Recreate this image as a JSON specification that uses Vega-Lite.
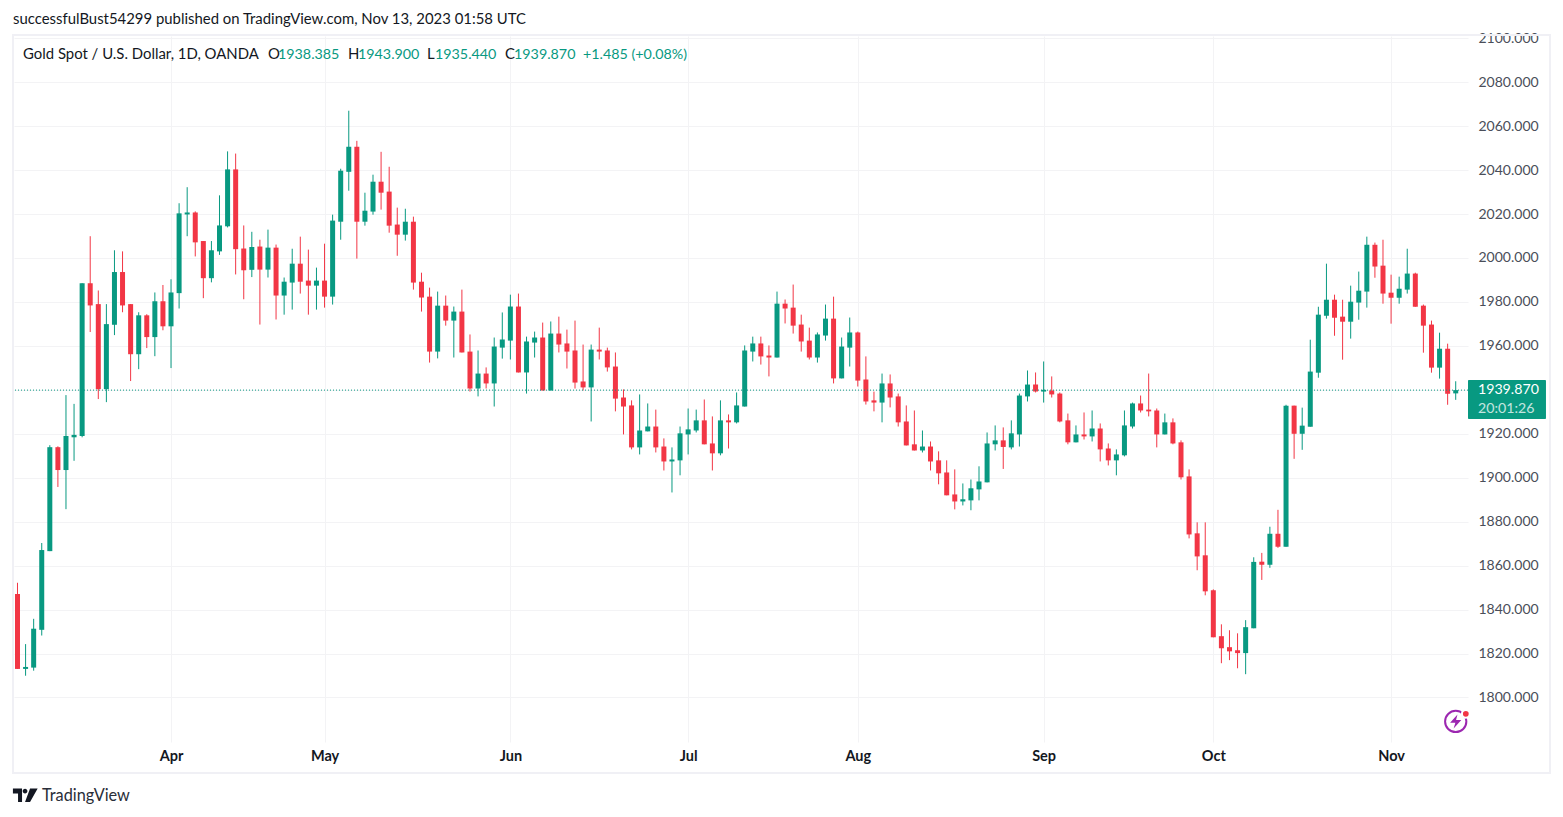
{"$schema":"https://vega.github.io/schema/vega-lite/v6.json","width":1454,"height":706,"autosize":{"type":"none"},"padding":{"left":14,"top":36,"right":95,"bottom":75},"background":"#ffffff","config":{"view":{"stroke":null},"font":"Lato"},
"datasets":{"candles":[
{"i":0,"o":1847.1,"h":1852.2,"l":1813,"c":1813},{"i":1,"o":1813,"h":1824.3,"l":1809.9,"c":1813.9},{"i":2,"o":1813.6,"h":1835.8,"l":1812.2,"c":1831.3},{"i":3,"o":1830.8,"h":1870.3,"l":1828.2,"c":1867.1},{"i":4,"o":1866.6,"h":1914.8,"l":1866.6,"c":1913.9},{"i":5,"o":1913.9,"h":1914.3,"l":1895.8,"c":1903.5},{"i":6,"o":1903.5,"h":1937.6,"l":1885.7,"c":1919},{"i":7,"o":1918.4,"h":1933.6,"l":1907.7,"c":1919.5},{"i":8,"o":1919,"h":1988.5,"l":1918.4,"c":1988.5},{"i":9,"o":1988.5,"h":2009.9,"l":1966.3,"c":1978.4},
{"i":10,"o":1979,"h":1985.2,"l":1935.8,"c":1940.3},{"i":11,"o":1940.3,"h":1979,"l":1934.4,"c":1969.9},{"i":12,"o":1969.6,"h":2003.5,"l":1964.9,"c":1993.6},{"i":13,"o":1993.6,"h":2003,"l":1975.3,"c":1978.4},{"i":14,"o":1979,"h":1979,"l":1944,"c":1956.2},{"i":15,"o":1956.2,"h":1975.3,"l":1949.4,"c":1973.9},{"i":16,"o":1973.9,"h":1974.4,"l":1959,"c":1964},{"i":17,"o":1964,"h":1984.3,"l":1955.3,"c":1980.3},{"i":18,"o":1980.3,"h":1987.7,"l":1967.1,"c":1968.9},{"i":19,"o":1968.9,"h":1990.3,"l":1949.9,"c":1984.3},
{"i":20,"o":1984,"h":2024.9,"l":1977,"c":2020.3},{"i":21,"o":2019.8,"h":2032.2,"l":2009.9,"c":2020.7},{"i":22,"o":2020.7,"h":2021.2,"l":2000.7,"c":2007.1},{"i":23,"o":2007.7,"h":2007.7,"l":1981.7,"c":1990.8},{"i":24,"o":1990.8,"h":2007.7,"l":1988.9,"c":2003.5},{"i":25,"o":2003,"h":2028.5,"l":2001.4,"c":2014.8},{"i":26,"o":2014.4,"h":2048.5,"l":2013.9,"c":2040.3},{"i":27,"o":2040.3,"h":2047.5,"l":1992.5,"c":2004},{"i":28,"o":2004.3,"h":2014.8,"l":1981.2,"c":1994.4},{"i":29,"o":1994.6,"h":2011.9,"l":1991.3,"c":2005},
{"i":30,"o":2005.2,"h":2008.3,"l":1969.7,"c":1994.7},{"i":31,"o":1994.7,"h":2012.9,"l":1991.1,"c":2004.7},{"i":32,"o":2004.7,"h":2006.1,"l":1972,"c":1982.9},{"i":33,"o":1982.9,"h":1991.1,"l":1974.2,"c":1989.2},{"i":34,"o":1988.8,"h":2004.2,"l":1976.5,"c":1997.4},{"i":35,"o":1997.4,"h":2009.7,"l":1983.8,"c":1989.2},{"i":36,"o":1989.7,"h":2003.8,"l":1974.2,"c":1987.4},{"i":37,"o":1987.4,"h":1995.6,"l":1976.5,"c":1989.7},{"i":38,"o":1989.7,"h":2006.5,"l":1977.4,"c":1982.4},{"i":39,"o":1982.4,"h":2019.7,"l":1978.8,"c":2017},
{"i":40,"o":2016.5,"h":2040.6,"l":2008.3,"c":2039.7},{"i":41,"o":2039.2,"h":2067,"l":2030.6,"c":2050.6},{"i":42,"o":2050.6,"h":2053.3,"l":1999.7,"c":2016.5},{"i":43,"o":2016.5,"h":2029.7,"l":2014.7,"c":2021.5},{"i":44,"o":2021.1,"h":2037.9,"l":2019.7,"c":2034.7},{"i":45,"o":2034.7,"h":2048.3,"l":2022,"c":2029.7},{"i":46,"o":2030.2,"h":2041.5,"l":2011.5,"c":2014.7},{"i":47,"o":2015.2,"h":2022.9,"l":2001,"c":2010.6},{"i":48,"o":2010.6,"h":2022.4,"l":2007.9,"c":2016.5},{"i":49,"o":2016.5,"h":2018.8,"l":1985.6,"c":1988.8},
{"i":50,"o":1989.2,"h":1993.3,"l":1975.6,"c":1982},{"i":51,"o":1982.4,"h":1986.5,"l":1952.4,"c":1957.4},{"i":52,"o":1957.4,"h":1984.7,"l":1954.3,"c":1978.3},{"i":53,"o":1978.3,"h":1982.9,"l":1969.2,"c":1971.5},{"i":54,"o":1971.5,"h":1977.9,"l":1954.7,"c":1975.6},{"i":55,"o":1975.6,"h":1985.6,"l":1957,"c":1957},{"i":56,"o":1957.4,"h":1965.2,"l":1939.2,"c":1940.6},{"i":57,"o":1940.6,"h":1957.9,"l":1937,"c":1947.4},{"i":58,"o":1947.4,"h":1950.2,"l":1940.6,"c":1942.9},{"i":59,"o":1942.9,"h":1963.8,"l":1932.4,"c":1959.7},
{"i":60,"o":1959.2,"h":1975.2,"l":1954.2,"c":1962.9},{"i":61,"o":1962.4,"h":1983.3,"l":1953.8,"c":1977.9},{"i":62,"o":1977.9,"h":1983.8,"l":1947.9,"c":1947.9},{"i":63,"o":1947.9,"h":1964.2,"l":1938.3,"c":1962},{"i":64,"o":1961.5,"h":1966.5,"l":1954.7,"c":1963.8},{"i":65,"o":1963.8,"h":1970.6,"l":1939.7,"c":1939.7},{"i":66,"o":1939.7,"h":1971.1,"l":1939.7,"c":1965.6},{"i":67,"o":1965.6,"h":1973.3,"l":1957,"c":1960.6},{"i":68,"o":1961.1,"h":1967.4,"l":1949.7,"c":1957.4},{"i":69,"o":1957.9,"h":1971.5,"l":1940.6,"c":1943.3},
{"i":70,"o":1943.8,"h":1960.6,"l":1939.7,"c":1941.1},{"i":71,"o":1941.1,"h":1960.6,"l":1925.6,"c":1958.3},{"i":72,"o":1958.3,"h":1968.3,"l":1953.8,"c":1957.4},{"i":73,"o":1957.9,"h":1959.2,"l":1948.3,"c":1950.2},{"i":74,"o":1950.6,"h":1957,"l":1930.2,"c":1936},{"i":75,"o":1936.5,"h":1940.2,"l":1919.7,"c":1932.4},{"i":76,"o":1932.9,"h":1935.2,"l":1912.9,"c":1913.8},{"i":77,"o":1913.8,"h":1937.9,"l":1910.6,"c":1921.5},{"i":78,"o":1921.1,"h":1933.8,"l":1921.1,"c":1923.3},{"i":79,"o":1923.3,"h":1931,"l":1911.5,"c":1913.8},
{"i":80,"o":1914.2,"h":1917.9,"l":1903.3,"c":1907.4},{"i":81,"o":1907.4,"h":1913.8,"l":1893.3,"c":1908.3},{"i":82,"o":1907.9,"h":1923.3,"l":1901.1,"c":1920.2},{"i":83,"o":1919.7,"h":1931.5,"l":1910.6,"c":1922},{"i":84,"o":1921.5,"h":1931,"l":1920.6,"c":1926.1},{"i":85,"o":1926.1,"h":1935.6,"l":1915.2,"c":1915.2},{"i":86,"o":1915.6,"h":1927.9,"l":1903.3,"c":1911.1},{"i":87,"o":1911.1,"h":1935.2,"l":1910.2,"c":1926.1},{"i":88,"o":1926.1,"h":1928.8,"l":1913.3,"c":1925.2},{"i":89,"o":1925.2,"h":1938.8,"l":1924.7,"c":1932.9},
{"i":90,"o":1932.4,"h":1960.2,"l":1932.4,"c":1957.9},{"i":91,"o":1957.4,"h":1964.2,"l":1952.9,"c":1961.1},{"i":92,"o":1961.1,"h":1964.2,"l":1951.5,"c":1955.2},{"i":93,"o":1955.6,"h":1960.2,"l":1946.1,"c":1954.7},{"i":94,"o":1954.7,"h":1984.7,"l":1954.7,"c":1979.2},{"i":95,"o":1979.2,"h":1981.1,"l":1970.2,"c":1977},{"i":96,"o":1977.4,"h":1987.9,"l":1965.6,"c":1969.2},{"i":97,"o":1969.7,"h":1974.2,"l":1957.4,"c":1962},{"i":98,"o":1962.4,"h":1968.3,"l":1953.8,"c":1954.7},{"i":99,"o":1954.7,"h":1966.1,"l":1952.4,"c":1965.2},
{"i":100,"o":1964.7,"h":1978.8,"l":1962.4,"c":1972.4},{"i":101,"o":1972.4,"h":1982.4,"l":1942.9,"c":1945.2},{"i":102,"o":1945.2,"h":1963.8,"l":1945.2,"c":1959.7},{"i":103,"o":1959.2,"h":1972.9,"l":1950.6,"c":1966.1},{"i":104,"o":1966.1,"h":1966.5,"l":1941.5,"c":1944.2},{"i":105,"o":1944.7,"h":1955.2,"l":1933.3,"c":1934.7},{"i":106,"o":1935.2,"h":1939.2,"l":1930.2,"c":1934.2},{"i":107,"o":1934.2,"h":1947.4,"l":1925.2,"c":1942.9},{"i":108,"o":1942.9,"h":1947,"l":1932,"c":1936.5},{"i":109,"o":1937,"h":1938.3,"l":1923.3,"c":1925.2},
{"i":110,"o":1925.6,"h":1932.9,"l":1914.7,"c":1914.7},{"i":111,"o":1915.2,"h":1930.6,"l":1912.4,"c":1912.4},{"i":112,"o":1912.4,"h":1921.5,"l":1911.5,"c":1914.2},{"i":113,"o":1914.2,"h":1916.5,"l":1903.3,"c":1907.4},{"i":114,"o":1907.9,"h":1912,"l":1897,"c":1902},{"i":115,"o":1902.4,"h":1907.9,"l":1892,"c":1892},{"i":116,"o":1892.4,"h":1903.8,"l":1885.6,"c":1889.2},{"i":117,"o":1889.2,"h":1897.4,"l":1887.4,"c":1890.2},{"i":118,"o":1889.7,"h":1899.2,"l":1885.2,"c":1895.2},{"i":119,"o":1894.7,"h":1905.2,"l":1889.7,"c":1898.3},
{"i":120,"o":1897.9,"h":1920.6,"l":1897.9,"c":1915.6},{"i":121,"o":1915.2,"h":1923.8,"l":1912.4,"c":1917},{"i":122,"o":1917,"h":1922.9,"l":1904,"c":1914},{"i":123,"o":1913.8,"h":1926.1,"l":1912.9,"c":1920.2},{"i":124,"o":1919.7,"h":1938.3,"l":1914.2,"c":1937.4},{"i":125,"o":1937,"h":1948.8,"l":1934.7,"c":1942.4},{"i":126,"o":1942.4,"h":1947.9,"l":1938.8,"c":1939.2},{"i":127,"o":1939.2,"h":1952.9,"l":1934.2,"c":1940},{"i":128,"o":1939.7,"h":1946.1,"l":1936.5,"c":1937.9},{"i":129,"o":1938.3,"h":1938.8,"l":1925.2,"c":1925.6},
{"i":130,"o":1926.1,"h":1929.2,"l":1915.2,"c":1916.1},{"i":131,"o":1916.1,"h":1923.8,"l":1916.1,"c":1919.7},{"i":132,"o":1919.7,"h":1929.7,"l":1917.4,"c":1918.8},{"i":133,"o":1918.8,"h":1930.6,"l":1916.5,"c":1922.4},{"i":134,"o":1922.4,"h":1924.7,"l":1907.4,"c":1912.9},{"i":135,"o":1913.3,"h":1915.6,"l":1905.6,"c":1907.9},{"i":136,"o":1907.9,"h":1912.9,"l":1901.1,"c":1910.6},{"i":137,"o":1910.2,"h":1930.6,"l":1909.7,"c":1923.8},{"i":138,"o":1923.3,"h":1934.2,"l":1922.4,"c":1933.8},{"i":139,"o":1933.8,"h":1937.4,"l":1929.7,"c":1930.6},
{"i":140,"o":1931,"h":1947.4,"l":1927.9,"c":1930.2},{"i":141,"o":1930.6,"h":1931.5,"l":1913.8,"c":1919.7},{"i":142,"o":1919.7,"h":1929.2,"l":1919.7,"c":1925.2},{"i":143,"o":1925.2,"h":1927,"l":1915.2,"c":1915.6},{"i":144,"o":1916.1,"h":1917,"l":1899.2,"c":1900.2},{"i":145,"o":1900.6,"h":1903.8,"l":1872.4,"c":1874.2},{"i":146,"o":1874.7,"h":1879.7,"l":1857.9,"c":1864.2},{"i":147,"o":1864.7,"h":1879.7,"l":1846.5,"c":1848.3},{"i":148,"o":1848.8,"h":1849.2,"l":1827.4,"c":1827.4},{"i":149,"o":1827.9,"h":1833.3,"l":1815.6,"c":1822.4},
{"i":150,"o":1822.9,"h":1830.6,"l":1817,"c":1821},{"i":151,"o":1821.5,"h":1829.2,"l":1813.3,"c":1820.2},{"i":152,"o":1820.2,"h":1835.2,"l":1810.6,"c":1832},{"i":153,"o":1831.5,"h":1863.8,"l":1831.5,"c":1861.7},{"i":154,"o":1861.8,"h":1865.8,"l":1853.5,"c":1860.4},{"i":155,"o":1860.4,"h":1877.7,"l":1859,"c":1874.5},{"i":156,"o":1874.5,"h":1885.4,"l":1868.1,"c":1868.6},{"i":157,"o":1868.6,"h":1933.2,"l":1868.6,"c":1932.8},{"i":158,"o":1932.8,"h":1932.8,"l":1908.6,"c":1920},{"i":159,"o":1920,"h":1931.9,"l":1912.7,"c":1923.7},
{"i":160,"o":1923.2,"h":1962.8,"l":1923.2,"c":1948.3},{"i":161,"o":1947.8,"h":1977.8,"l":1945.5,"c":1974.2},{"i":162,"o":1973.7,"h":1997.4,"l":1972.4,"c":1981},{"i":163,"o":1981,"h":1983.3,"l":1964.6,"c":1972.8},{"i":164,"o":1973.3,"h":1981,"l":1953.7,"c":1971},{"i":165,"o":1971,"h":1987.4,"l":1963.3,"c":1980.1},{"i":166,"o":1979.7,"h":1993.8,"l":1971.9,"c":1985.1},{"i":167,"o":1984.7,"h":2009.7,"l":1977.4,"c":2006},{"i":168,"o":2006,"h":2007,"l":1991,"c":1996.1},{"i":169,"o":1996.5,"h":2008.3,"l":1979.2,"c":1983.8},
{"i":170,"o":1984.2,"h":1992.4,"l":1970.1,"c":1981.9},{"i":171,"o":1981.9,"h":1991.5,"l":1979.2,"c":1986},{"i":172,"o":1985.6,"h":2004.2,"l":1983.8,"c":1992.9},{"i":173,"o":1992.9,"h":1993.3,"l":1977.8,"c":1977.8},{"i":174,"o":1978.3,"h":1978.8,"l":1956.9,"c":1969.2},{"i":175,"o":1969.7,"h":1971.5,"l":1947.8,"c":1950.1},{"i":176,"o":1950.1,"h":1966,"l":1945.1,"c":1958.7},{"i":177,"o":1958.7,"h":1961,"l":1933.2,"c":1938.2},{"i":178,"o":1938.385,"h":1943.9,"l":1935.44,"c":1939.87}
],
"dark":[{"i":-0.557,"p":2108.4,"t":"successfulBust54299 published on TradingView.com, Nov 13, 2023 01:58 UTC"},{"i":0.68,"p":2092.4,"t":"Gold Spot / U.S. Dollar, 1D, OANDA"},{"i":31.0,"p":2092.4,"t":"O"},{"i":40.9,"p":2092.4,"t":"H"},{"i":50.68,"p":2092.4,"t":"L"},{"i":60.33,"p":2092.4,"t":"C"}],
"green":[{"i":32.24,"p":2092.4,"t":"1938.385"},{"i":42.14,"p":2092.4,"t":"1943.900"},{"i":51.67,"p":2092.4,"t":"1935.440"},{"i":61.45,"p":2092.4,"t":"1939.870"},{"i":69.99,"p":2092.4,"t":"+1.485 (+0.08%)"}]},
"layer":[
{"data":{"values":[{"i":-0.557,"i2":189.67,"p":2101.5,"p2":1765.6}]},"mark":{"type":"rect","fill":null,"stroke":"#f0f0f5","strokeWidth":2},"encoding":{"x":{"field":"i","type":"quantitative","scale":{"domain":[-0.433,179.52],"nice":false,"zero":false,"padding":0},"axis":{"values":[19,38,61,83,104,127,148,170],"labelExpr":"{19:'Apr',38:'May',61:'Jun',83:'Jul',104:'Aug',127:'Sep',148:'Oct',170:'Nov'}[datum.value]","title":null,"grid":true,"gridColor":"#f3f3f5","gridWidth":1,"domain":false,"ticks":false,"labelPadding":7,"labelFontSize":14.5,"labelColor":"#131722","labelFont":"Lato","labelFontWeight":"bold"}},"x2":{"field":"i2"},"y":{"field":"p","type":"quantitative","scale":{"domain":[1779.75,2101],"nice":false,"zero":false,"padding":0},"axis":{"orient":"right","values":[1800,1820,1840,1860,1880,1900,1920,1960,1980,2000,2020,2040,2060,2080,2100,1940],"format":".3f","labelExpr":"datum.value==1940?'':datum.label","title":null,"grid":true,"gridColor":"#f3f3f5","gridWidth":1,"domain":false,"ticks":false,"labelPadding":10,"labelFontSize":14,"labelColor":"#4a4e59","labelFont":"Lato","labelBound":false,"labelFlush":false}},"y2":{"field":"p2"}}},
{"data":{"name":"candles"},"mark":{"type":"rule","strokeWidth":1},"encoding":{"x":{"field":"i","type":"quantitative"},"y":{"field":"l","type":"quantitative"},"y2":{"field":"h"},"color":{"condition":{"test":"datum.c>=datum.o","value":"#089981"},"value":"#f23645"}}},
{"data":{"name":"candles"},"mark":{"type":"bar","size":5},"encoding":{"x":{"field":"i","type":"quantitative"},"y":{"field":"o","type":"quantitative"},"y2":{"field":"c"},"color":{"condition":{"test":"datum.c>=datum.o","value":"#089981"},"value":"#f23645"}}},
{"data":{"values":[{"p":1939.87}]},"mark":{"type":"rule","color":"#089981","strokeWidth":1,"strokeDash":[1,2]},"encoding":{"y":{"field":"p","type":"quantitative"}}},
{"data":{"values":[{"i":179.52,"i2":189.17,"p":1944.5,"p2":1926.7}]},"mark":{"type":"rect","fill":"#089981","cornerRadius":1},"encoding":{"x":{"field":"i","type":"quantitative"},"x2":{"field":"i2"},"y":{"field":"p","type":"quantitative"},"y2":{"field":"p2"}}},
{"data":{"values":[{"i":180.75,"p":1939.7,"t":"1939.870"}]},"mark":{"type":"text","align":"left","baseline":"middle","color":"#ffffff","fontSize":14.2,"font":"Lato"},"encoding":{"x":{"field":"i","type":"quantitative"},"y":{"field":"p","type":"quantitative"},"text":{"field":"t"}}},
{"data":{"values":[{"i":180.75,"p":1931.5,"t":"20:01:26"}]},"mark":{"type":"text","align":"left","baseline":"middle","color":"#ffffff","opacity":0.75,"fontSize":14.2,"font":"Lato"},"encoding":{"x":{"field":"i","type":"quantitative"},"y":{"field":"p","type":"quantitative"},"text":{"field":"t"}}},
{"data":{"name":"dark"},"mark":{"type":"text","align":"left","baseline":"middle","color":"#131722","fontSize":14.9,"font":"Lato"},"encoding":{"x":{"field":"i","type":"quantitative"},"y":{"field":"p","type":"quantitative"},"text":{"field":"t"}}},
{"data":{"name":"green"},"mark":{"type":"text","align":"left","baseline":"middle","color":"#089981","fontSize":14.3,"font":"Lato"},"encoding":{"x":{"field":"i","type":"quantitative"},"y":{"field":"p","type":"quantitative"},"text":{"field":"t"}}},
{"data":{"values":[{"i":3.03,"p":1755.2,"t":"TradingView"}]},"mark":{"type":"text","align":"left","baseline":"middle","color":"#2a2e39","fontSize":16.3,"font":"Lato"},"encoding":{"x":{"field":"i","type":"quantitative"},"y":{"field":"p","type":"quantitative"},"text":{"field":"t"}}},
{"data":{"values":[{"i":0.98,"p":1755.6}]},"mark":{"type":"point","filled":true,"color":"#131722","opacity":1,"size":625,"shape":"M-1,-0.52 H-0.27 V0.56 H-0.59 V-0.12 H-1 Z M-0.22,-0.32 a0.19,0.19 0 1,0 0.38,0 a0.19,0.19 0 1,0 -0.38,0 Z M0.37,-0.52 H0.98 L0.37,0.56 H-0.03 Z"},"encoding":{"x":{"field":"i","type":"quantitative"},"y":{"field":"p","type":"quantitative"}}},
{"data":{"values":[{"i":178.0,"p":1789.1}]},"mark":{"type":"point","filled":false,"stroke":"#9c27b0","strokeWidth":2,"opacity":1,"size":452,"shape":"circle"},"encoding":{"x":{"field":"i","type":"quantitative"},"y":{"field":"p","type":"quantitative"}}},
{"data":{"values":[{"i":178.0,"p":1789.1}]},"mark":{"type":"point","filled":true,"color":"#9c27b0","opacity":1,"size":196,"shape":"M0.25,-1 L-0.8,0.2 H-0.05 L-0.3,1 L0.8,-0.2 H0.05 Z"},"encoding":{"x":{"field":"i","type":"quantitative"},"y":{"field":"p","type":"quantitative"}}},
{"data":{"values":[{"i":179.25,"p":1792.6}]},"mark":{"type":"point","filled":true,"fill":"#f23645","stroke":"#ffffff","strokeWidth":2,"opacity":1,"size":60,"shape":"circle"},"encoding":{"x":{"field":"i","type":"quantitative"},"y":{"field":"p","type":"quantitative"}}}
]}
